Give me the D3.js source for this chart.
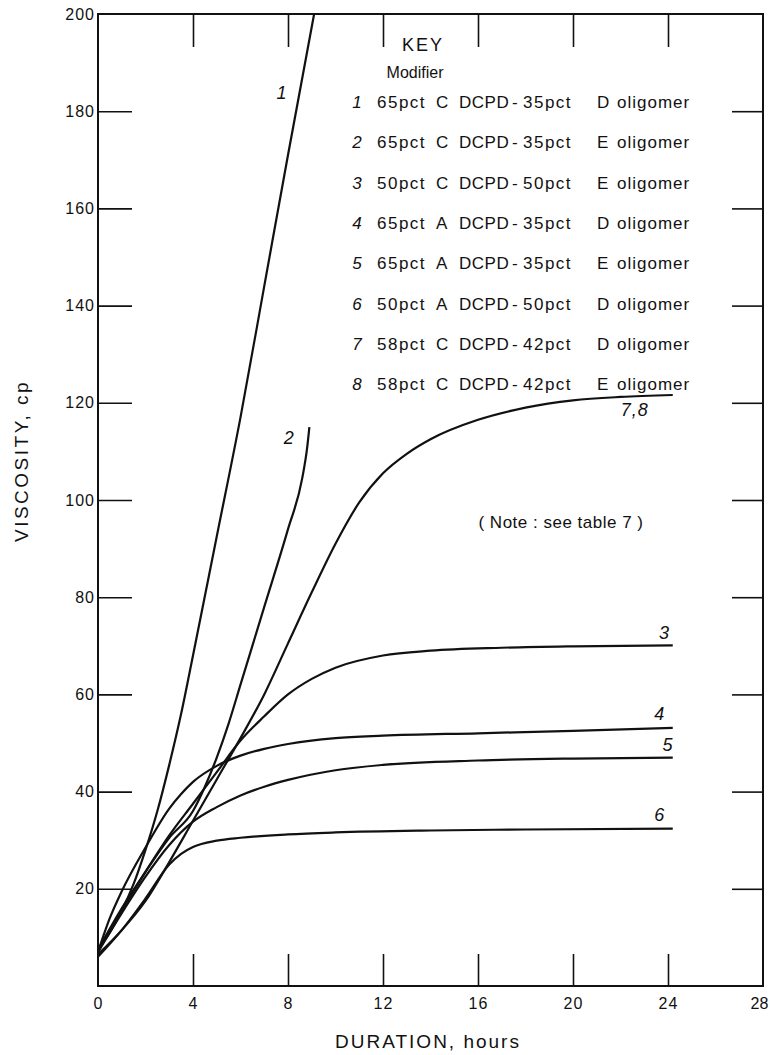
<!DOCTYPE html>
<html>
<head>
<meta charset="utf-8">
<script src="https://cdn.jsdelivr.net/npm/d3@7"></script>
<style>
  body { margin: 0; background: #fff; }
  svg { display: block; }
  text { font-family: "Liberation Sans", Arial, sans-serif; fill: #111; }
</style>
</head>
<body>
<div id="container"></div>
<script>
// curve data (hours, viscosity cp)
var hours1 = [0, 0.5, 1, 1.5, 2, 2.5, 3, 3.5, 4, 5, 6, 7, 8, 9.1];
var visc1  = [7.5, 11, 15.5, 21, 28, 36, 45.5, 56, 68, 92.5, 117, 144, 171, 200];

var hours2 = [0, 1, 2, 3, 4, 4.5, 5, 5.5, 6, 7, 8, 8.6, 8.8, 8.9];
var visc2  = [7.5, 16, 23.5, 30.5, 36, 41, 47, 54, 62, 78, 94, 104.5, 110.5, 115];

var hours3 = [0, 1, 2, 3, 4, 5, 6, 7, 8, 9, 10, 12, 14, 17, 20, 24.2];
var visc3  = [7, 15.5, 23.5, 31, 37.5, 44, 50.5, 55.5, 60, 63.2, 65.5, 68, 69, 69.6, 69.9, 70.1];

var hours4 = [0, 0.5, 1, 2, 3, 3.5, 4, 5, 6, 7, 8, 10, 12, 16, 20, 24.2];
var visc4  = [7, 14, 19.5, 28.5, 36.5, 39.5, 42, 45.3, 47.4, 48.8, 49.8, 51, 51.5, 52, 52.5, 53.1];

var hours5 = [0, 1, 2, 3, 4, 5, 6, 7, 8, 10, 12, 16, 20, 24.2];
var visc5  = [7, 15, 22.5, 29, 33.8, 36.8, 39.2, 41, 42.4, 44.4, 45.5, 46.4, 46.8, 47];

var hours6 = [0, 1, 2, 3, 3.5, 4, 5, 6, 8, 10, 14, 18, 24.2];
var visc6  = [6, 11.5, 18, 25, 27.2, 28.6, 29.9, 30.5, 31.2, 31.6, 32, 32.2, 32.4];

var hours78 = [0, 1, 2, 3, 4, 5, 6, 7, 8, 9, 10, 11, 12, 13, 14, 16, 18, 20, 22, 24.2];
var visc78  = [6.5, 11.5, 17.5, 25.5, 34, 42.5, 51, 60, 70.5, 81, 91, 99.5, 105.5, 109.5, 112.5, 116.5, 119, 120.5, 121.2, 121.6];

var curveNames = ["1", "2", "3", "4", "5", "6", "7,8"];

// axis ticks
var xTicks = [0, 4, 8, 12, 16, 20, 24, 28];
var yTicks = [20, 40, 60, 80, 100, 120, 140, 160, 180, 200];

// key
var keyNums  = ["1", "2", "3", "4", "5", "6", "7", "8"];
var keyPctA  = ["65pct", "65pct", "50pct", "65pct", "65pct", "50pct", "58pct", "58pct"];
var keyGrade = ["C", "C", "C", "A", "A", "A", "C", "C"];
var keyPctB  = ["35pct", "35pct", "50pct", "35pct", "35pct", "50pct", "42pct", "42pct"];
var keyOlig  = ["D", "E", "E", "D", "E", "D", "D", "E"];

var W = 770, H = 1055;

var svg = d3.select("#container").append("svg")
	.attr("width", W)
	.attr("height", H);

var x = d3.scaleLinear().domain([0, 28]).range([98, 763]);
var y = d3.scaleLinear().domain([0, 200]).range([986, 14]);

// frame
svg.append("rect")
	.attr("x", x(0))
	.attr("y", y(200))
	.attr("width", x(28) - x(0))
	.attr("height", y(0) - y(200))
	.style("fill", "none")
	.style("stroke", "#111")
	.style("stroke-width", 2);

// axes, ticks pointing inward
var bottom = svg.append("g")
	.attr("transform", "translate(0," + y(0) + ")")
	.call(d3.axisBottom(x).tickValues(xTicks).tickSizeInner(-32).tickSizeOuter(0).tickPadding(12));

var left = svg.append("g")
	.attr("transform", "translate(" + x(0) + ",0)")
	.call(d3.axisLeft(y).tickValues(yTicks).tickSizeInner(-34).tickSizeOuter(0).tickPadding(3));

svg.append("g")
	.attr("transform", "translate(0," + y(200) + ")")
	.call(d3.axisTop(x).tickValues(xTicks.slice(1, -1)).tickSizeInner(-33).tickSizeOuter(0).tickFormat(""));

svg.append("g")
	.attr("transform", "translate(" + x(28) + ",0)")
	.call(d3.axisRight(y).tickValues(yTicks.slice(0, -1)).tickSizeInner(-31).tickSizeOuter(0).tickFormat(""));

svg.selectAll(".domain").remove();
svg.selectAll(".tick line")
	.style("stroke", "#111")
	.style("stroke-width", 1.6);
svg.selectAll(".tick text")
	.style("font-family", "'Liberation Sans', Arial, sans-serif")
	.style("font-size", "16px")
	.style("letter-spacing", "1px")
	.style("fill", "#111");
left.selectAll(".tick").filter(function(d) { return d === 200; }).select("line").remove();
bottom.selectAll(".tick").filter(function(d) { return d === 0 || d === 28; }).select("line").remove();
// last x label sits at the page edge
bottom.selectAll(".tick").filter(function(d) { return d === 28; }).select("text")
	.attr("dx", -4)
	.style("letter-spacing", "0px");

// axis titles
svg.append("text")
	.attr("x", 428)
	.attr("y", 1048)
	.attr("text-anchor", "middle")
	.style("font-size", "19px")
	.style("letter-spacing", "2px")
	.text("DURATION, hours");

svg.append("text")
	.attr("transform", "translate(28,461) rotate(-90)")
	.attr("text-anchor", "middle")
	.style("font-size", "19px")
	.style("letter-spacing", "2.5px")
	.text("VISCOSITY, cp");

// curves
var series = [
	[hours1, visc1], [hours2, visc2], [hours3, visc3], [hours4, visc4],
	[hours5, visc5], [hours6, visc6], [hours78, visc78]
].map(function(s, i) {
	return {
		name: curveNames[i],
		values: s[0].map(function(h, j) { return { h: h, v: s[1][j] }; })
	};
});

var line = d3.line()
	.curve(d3.curveMonotoneX)
	.x(function(d) { return x(d.h); })
	.y(function(d) { return y(d.v); });

svg.append("g").selectAll("path")
	.data(series).enter()
	.append("path")
	.attr("d", function(d) { return line(d.values); })
	.style("fill", "none")
	.style("stroke", "#111")
	.style("stroke-width", 2.2)
	.style("stroke-linejoin", "round");

// curve labels, placed near each curve
var labelPos = {
	"1": [7.75, 182.5],
	"2": [8.05, 111.5],
	"3": [23.85, 71.5],
	"4": [23.65, 54.8],
	"5": [24.0, 48.3],
	"6": [23.65, 34],
	"7,8": [22.6, 117.2]
};
svg.append("g").selectAll("text")
	.data(series).enter()
	.append("text")
	.attr("x", function(d) { return x(labelPos[d.name][0]); })
	.attr("y", function(d) { return y(labelPos[d.name][1]); })
	.attr("text-anchor", "middle")
	.style("font-size", "18px")
	.style("font-style", "italic")
	.style("letter-spacing", "1px")
	.text(function(d) { return d.name; });

// key
svg.append("text")
	.attr("x", 423).attr("y", 51)
	.attr("text-anchor", "middle")
	.style("font-size", "18px")
	.style("letter-spacing", "2px")
	.text("KEY");

svg.append("text")
	.attr("x", 415).attr("y", 78)
	.attr("text-anchor", "middle")
	.style("font-size", "16px")
	.text("Modifier");

var rows = svg.append("g").selectAll("g")
	.data(keyNums).enter()
	.append("g")
	.attr("transform", function(d, i) { return "translate(0," + (108 + i * 40.3) + ")"; })
	.style("font-size", "17px");

rows.append("text").attr("x", 357).attr("text-anchor", "middle")
	.style("font-style", "italic")
	.text(function(d) { return d; });
rows.append("text").attr("x", 377).style("letter-spacing", "1.5px")
	.text(function(d, i) { return keyPctA[i]; });
rows.append("text").attr("x", 436)
	.text(function(d, i) { return keyGrade[i]; });
rows.append("text").attr("x", 459).style("letter-spacing", "0.5px")
	.text("DCPD");
rows.append("text").attr("x", 512)
	.text("-");
rows.append("text").attr("x", 523).style("letter-spacing", "1.5px")
	.text(function(d, i) { return keyPctB[i]; });
rows.append("text").attr("x", 597)
	.text(function(d, i) { return keyOlig[i]; });
rows.append("text").attr("x", 617).style("letter-spacing", "1px")
	.text("oligomer");

// note
svg.append("text")
	.attr("x", 561).attr("y", 528)
	.attr("text-anchor", "middle")
	.style("font-size", "17px")
	.style("letter-spacing", "0.5px")
	.text("( Note : see table 7 )");
</script>
</body>
</html>
